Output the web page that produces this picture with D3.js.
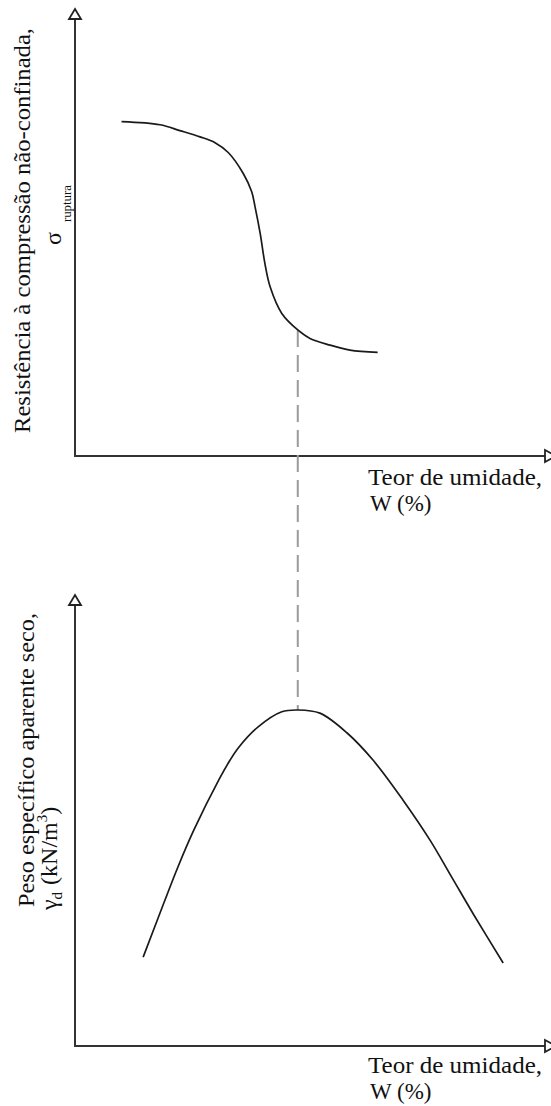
<!DOCTYPE html>
<html>
<head>
<meta charset="utf-8">
<script src="https://cdn.jsdelivr.net/npm/d3@7/dist/d3.min.js"></script>
<style>
  html, body { margin: 0; padding: 0; background: #fff; }
  svg { display: block; }
  text { font-family: "Liberation Serif", "Times New Roman", serif; fill: #111; }
</style>
</head>
<body>
<svg id="chart" width="551" height="1106"></svg>
<script>
// Unconfined compressive strength vs. moisture content (relative units)
const strengthW     = [9.9, 18.1, 22.3, 26.6, 29.8, 32.6, 35.8, 37.6, 38.3, 39.4, 40.4, 41.5, 44.0, 47.4, 50.0, 54.3, 58.5, 64.4];
const strengthValue = [74.8, 74.1, 72.8, 71.4, 70.1, 67.9, 63.2, 59.1, 55.8, 49.8, 43.1, 37.9, 31.9, 28.2, 26.3, 24.8, 23.7, 23.2];

// Dry unit weight vs. moisture content (compaction curve, relative units)
const densityW     = [14.5, 18.9, 21.9, 25.3, 30.6, 33.0, 34.9, 38.9, 44.0, 47.4, 52.1, 57.9, 63.4, 69.8, 75.5, 80.4, 84.9, 91.1];
const densityValue = [19.7, 31.7, 39.7, 47.9, 59.0, 63.4, 66.3, 70.7, 74.1, 74.5, 73.8, 69.4, 63.4, 54.5, 45.7, 37.0, 29.0, 18.4];

// Optimum moisture content (links both panels)
const optimumW = 47.4;

// Axis titles
const xTitleLines = ["Teor de umidade,", "W (%)"];
const topYTitle = "Resistência à compressão não-confinada,";
const topYSymbol = "σ";
const topYSub = "ruptura";
const bottomYTitle = "Peso específico aparente seco,";

const svg = d3.select("#chart");
const ink = "#1a1a1a";

const x = d3.scaleLinear().domain([0, 100]).range([75, 545]);
const yTop = d3.scaleLinear().domain([0, 100]).range([456, 9]);
const yBottom = d3.scaleLinear().domain([0, 100]).range([1046, 595]);

function axes(yScale) {
  const y0 = yScale(0), yTopPx = yScale(100), x0 = x(0), xEnd = x(100);
  const g = svg.append("g");
  // vertical axis with open arrow head
  g.append("line").attr("x1", x0).attr("x2", x0).attr("y1", y0).attr("y2", yTopPx + 10)
    .attr("stroke", "#333").attr("stroke-width", 2);
  g.append("path")
    .attr("d", `M${x0},${yTopPx} L${x0 + 6},${yTopPx + 10} L${x0 - 6},${yTopPx + 10} Z`)
    .attr("fill", "#fff").attr("stroke", "#222").attr("stroke-width", 1.8);
  // horizontal axis with open arrow head
  g.append("line").attr("x1", x0 - 1).attr("x2", xEnd).attr("y1", y0).attr("y2", y0)
    .attr("stroke", "#333").attr("stroke-width", 2);
  g.append("path")
    .attr("d", `M${xEnd},${y0 - 6} L${xEnd + 11},${y0} L${xEnd},${y0 + 6} Z`)
    .attr("fill", "#fff").attr("stroke", "#222").attr("stroke-width", 1.8);
}

axes(yTop);
axes(yBottom);

// Dashed guide at the optimum moisture content
const topAtOpt = strengthValue[strengthW.indexOf(optimumW)];
const botAtOpt = densityValue[densityW.indexOf(optimumW)];
svg.append("line")
  .attr("x1", x(optimumW)).attr("x2", x(optimumW))
  .attr("y1", yTop(topAtOpt)).attr("y2", yBottom(botAtOpt))
  .attr("stroke", "#9a9a9a").attr("stroke-width", 2)
  .attr("stroke-dasharray", "17,8");

// Curves
const strengthLine = d3.line()
  .x((d, i) => x(strengthW[i]))
  .y(d => yTop(d))
  .curve(d3.curveCatmullRom.alpha(0.5));
svg.append("path").datum(strengthValue)
  .attr("d", strengthLine)
  .attr("fill", "none").attr("stroke", ink).attr("stroke-width", 1.7);

const densityLine = d3.line()
  .x((d, i) => x(densityW[i]))
  .y(d => yBottom(d))
  .curve(d3.curveCatmullRom.alpha(0.5));
svg.append("path").datum(densityValue)
  .attr("d", densityLine)
  .attr("fill", "none").attr("stroke", ink).attr("stroke-width", 1.7);

// X axis titles (two lines)
function xTitle(baseline) {
  svg.append("text").attr("x", 368).attr("y", baseline)
    .attr("font-size", 23).attr("textLength", 174).attr("lengthAdjust", "spacingAndGlyphs")
    .text(xTitleLines[0]);
  svg.append("text").attr("x", 370).attr("y", baseline + 26)
    .attr("font-size", 23)
    .text(xTitleLines[1]);
}
xTitle(485);
xTitle(1073);

// Top Y title
svg.append("text")
  .attr("transform", "translate(30,433) rotate(-90)")
  .attr("font-size", 24).attr("textLength", 405).attr("lengthAdjust", "spacingAndGlyphs")
  .text(topYTitle);
const sig = svg.append("text")
  .attr("transform", "translate(61,245) rotate(-90)")
  .attr("font-size", 24);
sig.append("tspan").text(topYSymbol);
sig.append("tspan").attr("dx", 10).attr("dy", 10).attr("font-size", 13)
  .attr("textLength", 37).attr("lengthAdjust", "spacingAndGlyphs").text(topYSub);

// Bottom Y title
svg.append("text")
  .attr("transform", "translate(34,907) rotate(-90)")
  .attr("font-size", 24).attr("textLength", 294).attr("lengthAdjust", "spacingAndGlyphs")
  .text(bottomYTitle);
const gam = svg.append("text")
  .attr("transform", "translate(57,910) rotate(-90)")
  .attr("font-size", 24);
gam.append("tspan").text("γ");
gam.append("tspan").attr("dy", 5).attr("font-size", 15).text("d");
gam.append("tspan").attr("dy", -5).attr("dx", 7).text("(kN/m");
gam.append("tspan").attr("dy", -10).attr("font-size", 15).text("3");
gam.append("tspan").attr("dy", 10).text(")");
</script>
</body>
</html>
